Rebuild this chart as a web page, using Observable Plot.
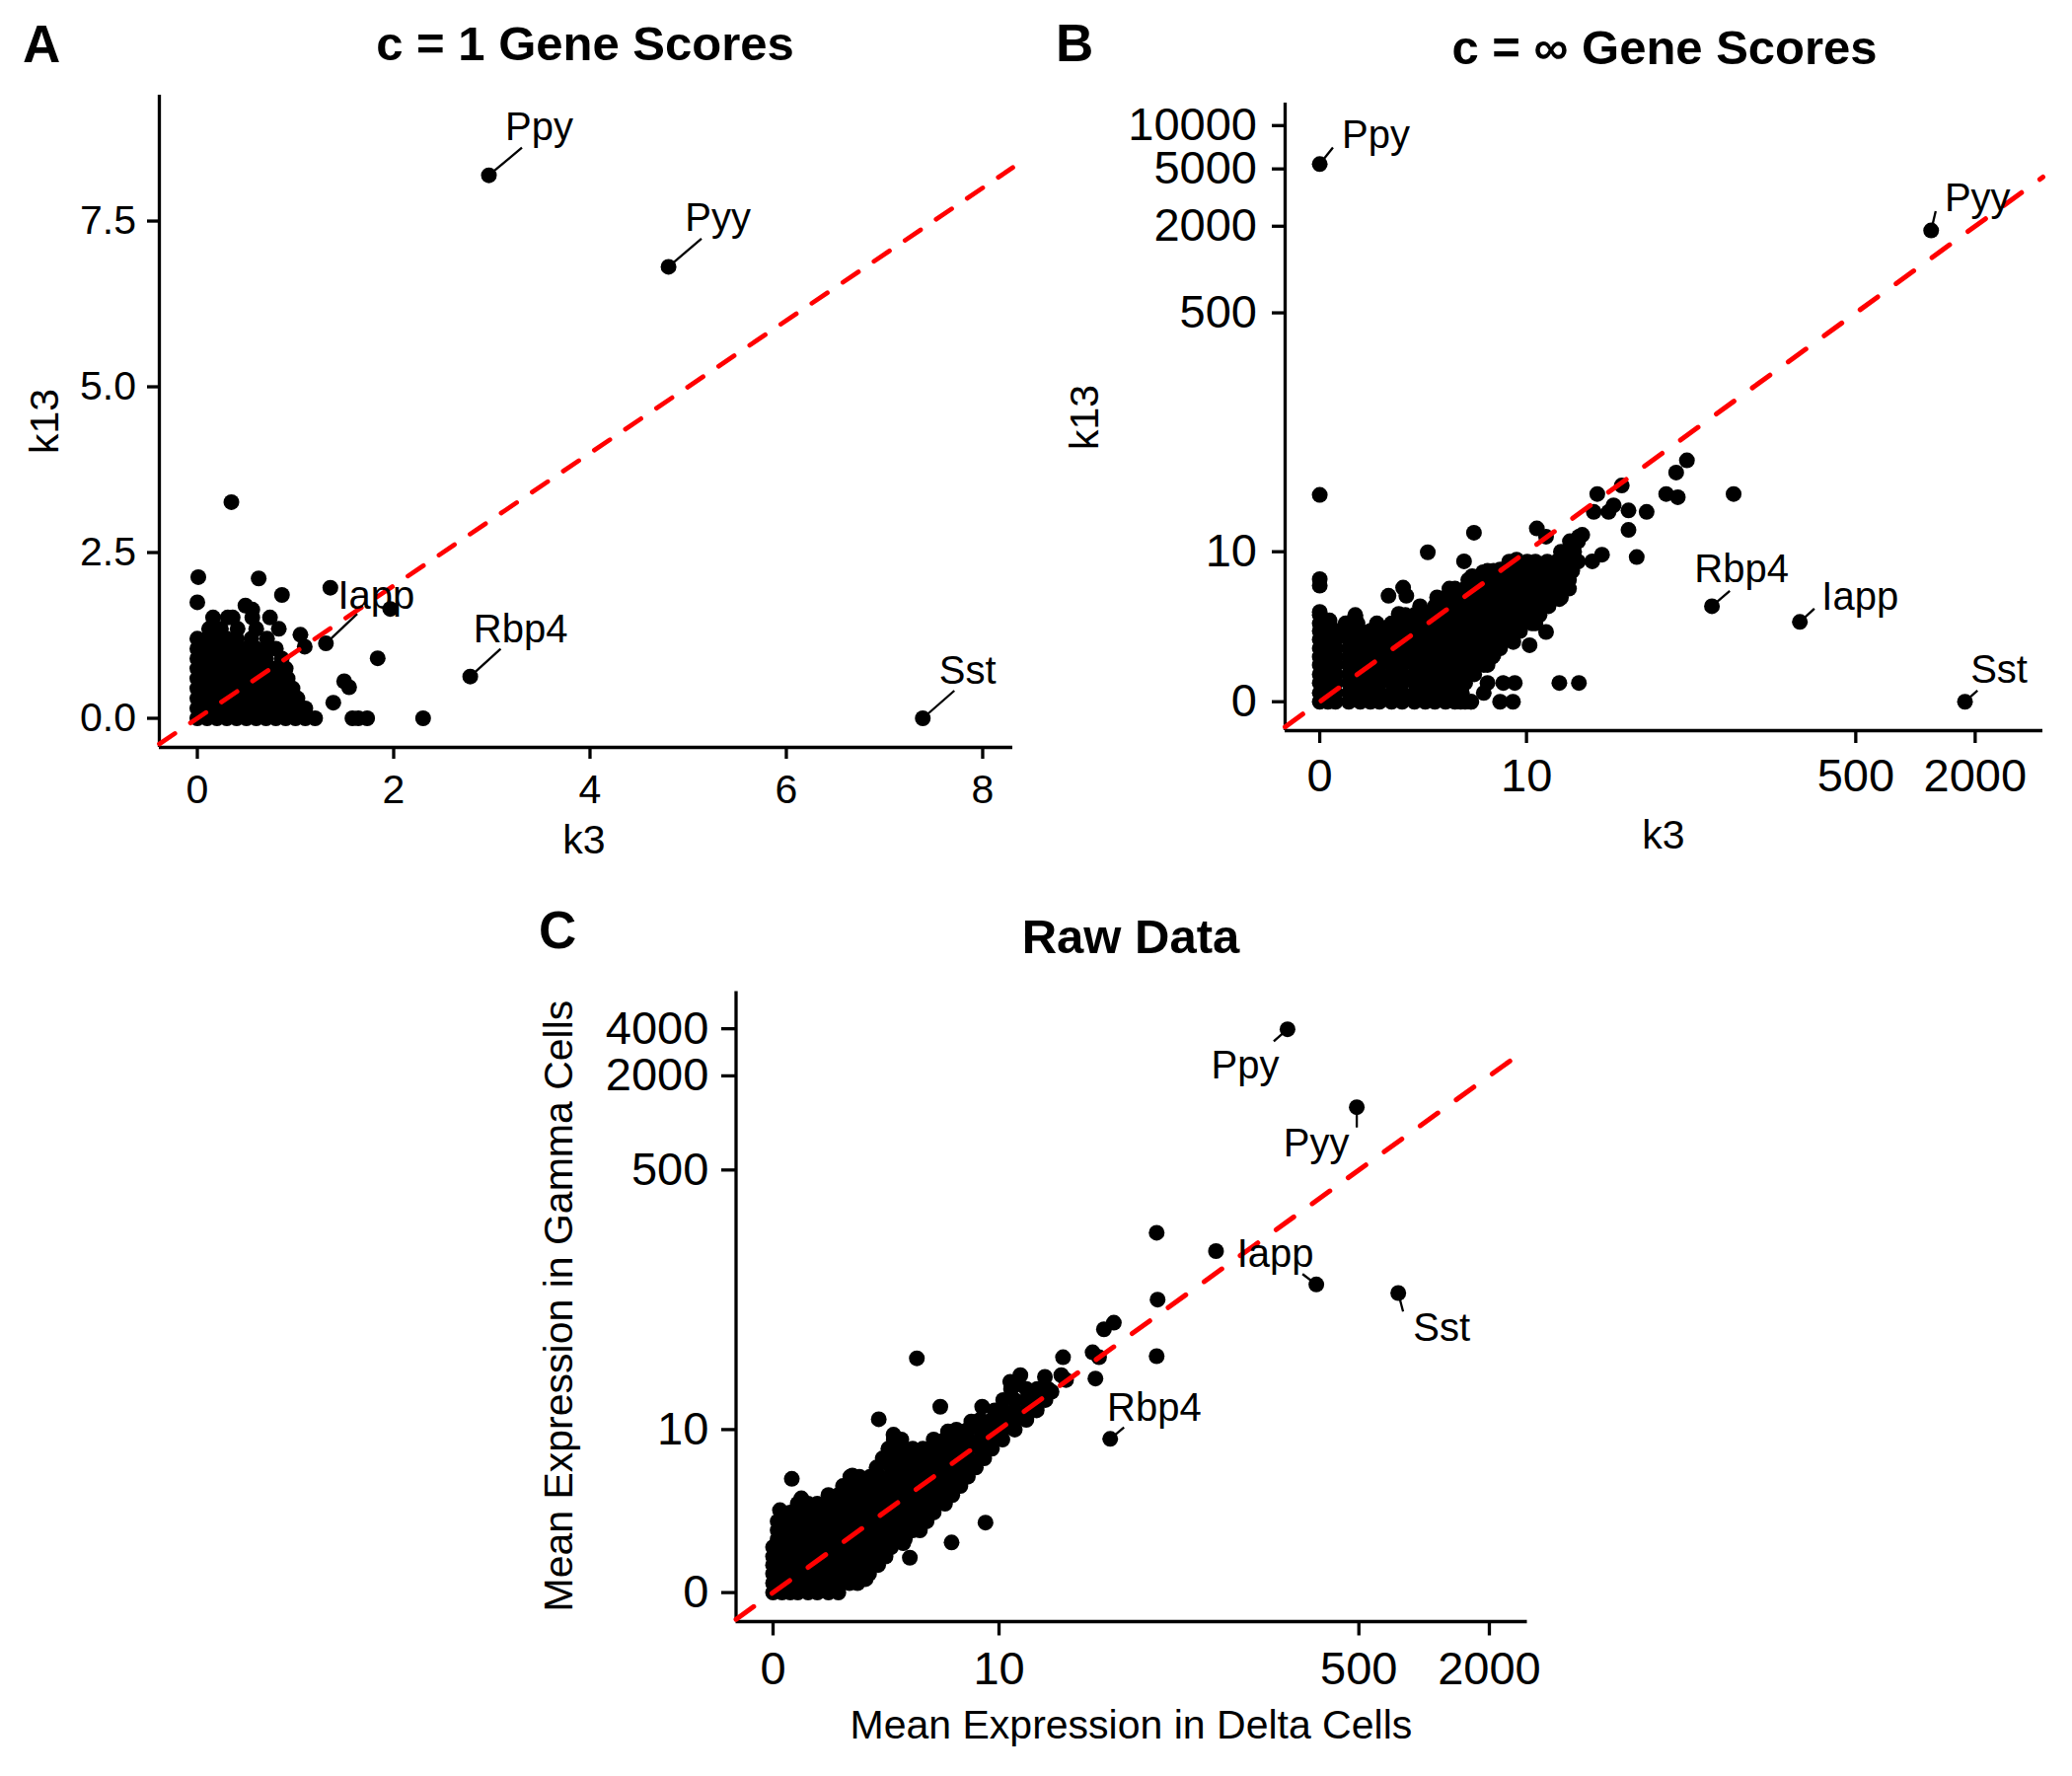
<!DOCTYPE html>
<html>
<head>
<meta charset="utf-8">
<script src="https://cdn.jsdelivr.net/npm/d3@7"></script>
<script src="https://cdn.jsdelivr.net/npm/@observablehq/plot@0.6"></script>
<style>
  body { margin: 0; background: #fff; }
  #root { position: relative; width: 2100px; height: 1800px; background: #fff; overflow: hidden;
          font-family: "Liberation Sans", Arial, Helvetica, sans-serif; }
  #root > svg { position: absolute; }
</style>
</head>
<body>
<div id="root"></div>
<script>
// ---------------- DATA ----------------
// Labelled genes (same order in all panels)
const genes = ["Ppy", "Pyy", "Iapp", "Rbp4", "Sst"];

// Panel A: c = 1 gene scores (k3, k13)
const aGeneK3  = [2.97, 4.80, 1.31, 2.78, 7.39];
const aGeneK13 = [8.19, 6.81, 1.13, 0.63, 0];
// dense cloud, read row by row: [k13, [k3 values]]
const aCloudRows = [
  [0,    [0,0.1,0.2,0.3,0.4,0.5,0.6,0.7,0.8,0.9,1.0,1.1,1.2,1.58,1.64,1.73,2.3]],
  [0.15, [0,0.1,0.2,0.3,0.4,0.5,0.6,0.7,0.8,0.9,1.0,1.1]],
  [0.3,  [0,0.1,0.2,0.3,0.4,0.5,0.6,0.7,0.8,0.9,1.02]],
  [0.45, [0,0.1,0.2,0.3,0.4,0.5,0.6,0.7,0.8,0.9,0.97]],
  [0.6,  [0,0.1,0.2,0.3,0.4,0.5,0.6,0.7,0.8,0.92]],
  [0.75, [0,0.1,0.2,0.3,0.4,0.5,0.6,0.7,0.8,0.9]],
  [0.9,  [0,0.1,0.2,0.3,0.4,0.5,0.6,0.7,0.86]],
  [1.05, [0,0.1,0.2,0.3,0.4,0.5,0.6,0.7,0.8]],
  [1.2,  [0,0.1,0.2,0.3,0.4,0.55,0.71]],
  [1.35, [0.12,0.24,0.41,0.6,0.83]],
  [1.52, [0.16,0.31,0.36,0.56,0.74]]
];
const aOutliers = [[0.49,1.70],[0.56,1.64],[0,1.75],[0.01,2.13],[0.625,2.11],[0.862,1.86],[0.347,3.26],
  [1.05,1.26],[1.094,1.08],[1.355,1.97],[1.965,1.65],[1.837,0.905],[1.496,0.558],[1.546,0.469],[1.385,0.235]];

// Panel B: c = infinity gene scores (k3, k13)
const bGeneK3  = [0, 1200, 261, 93.5, 1777];
const bGeneK13 = [5400, 1870, 2.58, 3.6, 0];
const bCloudRows = [
  [0,    [0,0.1,0.2,0.4,0.6,0.8,1,1.3,1.6,2,2.4,2.8,3.3,3.8,4.4,4.8,7.1,8.4]],
  [0.15, [0,0.1,0.2,0.4,0.6,0.8,1,1.3,1.6,2,2.4,2.8,3.3,3.8,4.2,5.7]],
  [0.35, [0,0.1,0.2,0.4,0.6,0.8,1,1.3,1.6,2,2.4,2.8,3.3,3.8,4.4,6.0,7.4,8.6,15.1,19.2]],
  [0.55, [0,0.1,0.2,0.4,0.6,0.8,1,1.3,1.6,2,2.4,2.8,3.3,3.8,4.4,5.0]],
  [0.8,  [0,0.1,0.2,0.4,0.6,0.8,1,1.3,1.6,2,2.4,2.8,3.3,3.8,4.4,5.0,5.7,6.0]],
  [1.05, [0,0.1,0.2,0.4,0.6,0.8,1,1.3,1.6,2,2.4,2.8,3.3,3.8,4.4,5.0,5.7,6.4]],
  [1.35, [0,0.1,0.2,0.4,0.6,0.8,1,1.3,1.6,2,2.4,2.8,3.3,3.8,4.4,5.0,5.7,6.5,7.1]],
  [1.7,  [0,0.1,0.2,0.4,0.6,0.8,1,1.3,1.6,2,2.4,2.8,3.3,3.8,4.4,5.0,5.7,6.5,7.4,8.0]],
  [2.1,  [0,0.1,0.2,0.4,0.6,0.8,1,1.3,1.6,2,2.4,2.8,3.3,3.8,4.4,5.0,5.7,6.5,7.4,8.4,9.2]],
  [2.5,  [0,0.12,0.35,0.55,0.94,1.3,1.6,2,2.4,2.8,3.3,3.8,4.4,5.0,5.7,6.5,7.4,8.4,9.5,10.7,11.2]],
  [3,    [0,0.51,1.7,2,2.4,2.8,3.3,3.8,4.4,5.0,5.7,6.5,7.4,8.4,9.5,10.7,11.8]],
  [3.6,  [2.2,2.8,3.3,3.8,4.4,5.0,5.7,6.5,7.4,8.4,9.5,10.7,12,13.2]],
  [4.3,  [2.9,3.3,3.8,4.4,5.0,5.7,6.5,7.4,8.4,9.5,10.7,12,13.5,15.4]],
  [5.1,  [3.5,3.8,4.4,5.0,5.7,6.5,7.4,8.4,9.5,10.7,12,13.5,15,17]],
  [6,    [4.6,5.0,5.7,6.5,7.4,8.4,9.5,10.7,12,13.5,15,17]],
  [7.1,  [6.0,6.5,7.4,8.4,9.5,10.7,12,13.5,15,16.4,17.7]],
  [8.4,  [8.0,9.0,10.1,11.2,13,14.6,16,17.5,19]],
  [10,   [15.4,17,18.1]],
  [12,   [17.2,19]]
];
const bOutliers = [[0,26.3],[0,6.1],[0,5.4],[0,3.2],[0.12,2.67],[0.35,2.13],[0.51,2.86],[0.94,2.39],
  [1.22,4.44],[1.63,5.2],[1.73,4.44],[1.5,3.07],[2.5,9.9],[4.33,8.44],[4.98,13.9],[4.86,6.45],[5.65,6.93],
  [7.1,7.27],[8.8,8.69],[11.4,14.97],[12.8,13.0],[20.0,13.4],[24.0,26.7],[23.0,19.8],[27.5,19.8],[29.2,22.1],
  [32.2,30.7],[34.9,20.3],[34.9,14.6],[43.3,19.8],[38.5,9.1],[54.6,26.7],[62.6,25.3],[61.4,38.0],[69.7,46.4],
  [120.5,26.7],[25.4,9.5],[22.6,8.44],[19.2,13.0],[17.0,10.35],[15.7,8.2],[16.4,5.7],[15.1,4.16],[12.8,2.05],
  [10.4,1.47],[8.44,1.6],[6.5,1.11],[4.13,0],[4.76,0]];

// Panel C: raw data, mean expression (delta, gamma)
const cGeneDelta = [234, 489, 318, 34.8, 760];
const cGeneGamma = [3970, 1260, 92, 8.6, 81];
const cCloudRows = [
  [0,    [0,0.1,0.2,0.3,0.45,0.6,0.8,1.0]],
  [0.15, [0,0.1,0.2,0.3,0.45,0.6,0.8,1.0,1.25,1.45]],
  [0.32, [0,0.1,0.2,0.3,0.45,0.6,0.8,1.0,1.25,1.5,1.77]],
  [0.5,  [0,0.1,0.2,0.3,0.45,0.6,0.8,1.0,1.25,1.5,1.8,2.05]],
  [0.7,  [0,0.1,0.2,0.3,0.45,0.6,0.8,1.0,1.25,1.5,1.8,2.1,2.3]],
  [0.95, [0,0.1,0.2,0.3,0.45,0.6,0.8,1.0,1.25,1.5,1.8,2.1,2.5]],
  [1.2,  [0.05,0.1,0.2,0.3,0.45,0.6,0.8,1.0,1.25,1.5,1.8,2.1,2.5,2.9,3.05]],
  [1.5,  [0.05,0.1,0.2,0.3,0.45,0.6,0.8,1.0,1.25,1.5,1.8,2.1,2.5,2.9,3.4,3.75]],
  [1.85, [0.05,0.1,0.2,0.3,0.45,0.6,0.8,1.0,1.25,1.5,1.8,2.1,2.5,2.9,3.4,3.9,4.1]],
  [2.25, [0.1,0.2,0.3,0.45,0.6,0.8,1.0,1.25,1.5,1.8,2.1,2.5,2.9,3.4,3.9,4.5]],
  [2.7,  [0.3,0.45,0.6,0.8,1.0,1.25,1.5,1.8,2.1,2.5,2.9,3.4,3.9,4.5,5.2]],
  [3.2,  [0.8,1.0,1.25,1.5,1.8,2.1,2.5,2.9,3.4,3.9,4.5,5.2,5.7]],
  [3.8,  [1.1,1.25,1.5,1.8,2.1,2.5,2.9,3.4,3.9,4.5,5.2,6.0,6.3]],
  [4.5,  [1.27,1.5,1.8,2.1,2.5,2.9,3.4,3.9,4.5,5.2,6.0,6.9]],
  [5.3,  [2.0,2.5,2.9,3.4,3.9,4.5,5.2,6.0,6.9,7.6]],
  [6.2,  [2.2,2.5,2.9,3.4,3.9,4.5,5.2,6.0,6.9,8.0,8.4]],
  [7.3,  [2.4,2.9,3.4,3.9,4.5,5.2,6.0,6.9,8.0,9.2]],
  [8.5,  [2.6,2.9,4.5,5.2,6.0,6.9,8.0,9.2,10.4]],
  [10,   [6.0,6.9,8.0,9.2,10.5,12.0]],
  [11.7, [8.0,9.2,10.5,12.0,13.7]],
  [13.6, [9.5,10.5,12.0,13.7,15.4]],
  [16,   [10.5,12.0,13.7,15.5,17.0]],
  [19,   [11.5,13.7,15.5,17.5]]
];
const cOutliers = [[0.076,2.36],[0.35,3.0],[0.22,4.33],[1.32,4.6],[1.76,4.2],[2.07,11.8],[2.59,9.2],[4.9,14.4],
  [3.6,30.4],[8.53,1.8],[5.65,1.09],[1.57,0.22],[1.67,0.22],[2.98,1.07],[3.27,0.67],[7.2,11.4],[8.2,14.4],
  [11.4,21.2],[5.4,9.7],[12.8,23.5],[12.1,20.2],[16.9,22.9],[20.3,23.5],[21.4,21.8],[18.2,18.2],[15.4,14.1],
  [13.7,12.0],[20.7,30.9],[28.7,33.3],[30.8,30.9],[29.6,22.3],[36.2,52],[32.5,47.1],[57.6,198],[109,151],
  [58.2,73.4],[57.6,31.4]];

// Tick values
const aXTicks = [0, 2, 4, 6, 8];
const aYTicks = [0, 2.5, 5, 7.5];
const bXTicks = [0, 10, 500, 2000];
const bYTicks = [0, 10, 500, 2000, 5000, 10000];
const cXTicks = [0, 10, 500, 2000];
const cYTicks = [0, 10, 500, 2000, 4000];

// ---------------- LAYOUT / STYLE ----------------
// label placement (pixel offsets from the point): text [dx, baseline dy], leader end [dx, dy]
const aLabelOff = {Ppy:[[51,-36],[33.5,-28]], Pyy:[[50,-36],[33.4,-28.6]], Iapp:[[51,-35],[31.7,-30]],
                   Rbp4:[[51,-35],[30.8,-28]], Sst:[[45.5,-35.5],[32,-28]]};
const bLabelOff = {Ppy:[[57,-16.5],[13.4,-16.8]], Pyy:[[47,-19.6],[4.6,-19.6]], Iapp:[[61,-12],[14.7,-13.5]],
                   Rbp4:[[30,-24],[18.1,-15.7]], Sst:[[34.5,-19.7],[12.7,-11.3]]};
const cLabelOff = {Ppy:[[-43,50],[-14,12.3]], Pyy:[[-41,50],[0,20.5]], Iapp:[[-41.5,-18],[-14,-10.6]],
                   Rbp4:[[44.6,-18.7],[14,-11.7]], Sst:[[44,48],[4.9,18.7]]};

const FONT = '"Liberation Sans", Arial, Helvetica, sans-serif';

function rowsToPoints(rows, extra) {
  const pts = [];
  for (const [y, xs] of rows) for (const x of xs) pts.push([x, y]);
  for (const p of extra) pts.push(p);
  return pts;
}

function scaleFns(type, domain, range) {
  const f  = type === "symlog" ? v => Math.sign(v) * Math.log1p(Math.abs(v)) : v => v;
  const fi = type === "symlog" ? t => Math.sign(t) * Math.expm1(Math.abs(t)) : t => t;
  const t0 = f(domain[0]), t1 = f(domain[1]);
  return {
    fwd: v => range[0] + (f(v) - t0) / (t1 - t0) * (range[1] - range[0]),
    inv: p => fi(t0 + (p - range[0]) / (range[1] - range[0]) * (t1 - t0))
  };
}

function panel(c) {
  const sx = scaleFns(c.xType, c.xDomain, [c.mL, c.width - c.mR]);
  const sy = scaleFns(c.yType, c.yDomain, [c.height - c.mB, c.mT]);
  const labels = genes.map((g, i) => {
    const px = sx.fwd(c.gx[i]), py = sy.fwd(c.gy[i]);
    const [t, l] = c.off[g];
    return {g, x: c.gx[i], y: c.gy[i],
      tx: sx.inv(px + t[0]), ty: sy.inv(py + t[1]),
      lx: sx.inv(px + l[0]), ly: sy.inv(py + l[1])};
  });
  const scaleOpt = (type, domain) => type === "symlog" ? {type, domain, constant: 1} : {type, domain};
  const diag = [c.xDomain[0], c.xDomain[1]];
  const svg = Plot.plot({
    width: c.width, height: c.height,
    marginLeft: c.mL, marginRight: c.mR, marginTop: c.mT, marginBottom: c.mB,
    style: {fontFamily: FONT, fontSize: c.tickFont + "px", color: "black", background: "transparent", overflow: "visible"},
    x: scaleOpt(c.xType, c.xDomain),
    y: scaleOpt(c.yType, c.yDomain),
    marks: [
      Plot.axisX({ticks: c.xTicks, tickFormat: c.xFmt, tickSize: c.tickSize, tickPadding: c.xPad,
                  strokeWidth: 3.3, label: null, fontSize: c.tickFont}),
      Plot.axisY({ticks: c.yTicks, tickFormat: c.yFmt, tickSize: c.tickSize, tickPadding: c.yPad,
                  strokeWidth: 3.3, label: null, fontSize: c.tickFont}),
      Plot.ruleY([c.yDomain[0]], {stroke: "black", strokeWidth: 3.3}),
      Plot.ruleX([c.xDomain[0]], {stroke: "black", strokeWidth: 3.3}),
      Plot.link(labels, {x1: "x", y1: "y", x2: "lx", y2: "ly", stroke: "black", strokeWidth: 2.3}),
      Plot.dot(c.points, {x: d => d[0], y: d => d[1], r: 8, fill: "black", stroke: null}),
      Plot.line(diag, {x: d => d, y: d => d, stroke: "#ff0000", strokeWidth: c.lineW, strokeDasharray: c.dash}),
      Plot.text(labels, {x: "tx", y: "ty", text: "g", fontSize: 40, fill: "black",
                         textAnchor: "middle", lineAnchor: "bottom"})
    ]
  });
  svg.style.left = c.left + "px";
  svg.style.top = c.top + "px";
  return svg;
}

const root = document.getElementById("root");

root.appendChild(panel({
  left: 0, top: 0, width: 1050, height: 880, mL: 161, mT: 96, mR: 24, mB: 123,
  xType: "linear", yType: "linear", xDomain: [-0.387, 8.307], yDomain: [-0.439, 9.398],
  xTicks: aXTicks, yTicks: aYTicks, xFmt: d3.format("d"), yFmt: d3.format(".1f"),
  tickFont: 41, tickSize: 12, xPad: 15, yPad: 11.5, lineW: 4.7, dash: "19,19",
  points: rowsToPoints(aCloudRows, aOutliers).concat(aGeneK3.map((x, i) => [x, aGeneK13[i]])),
  gx: aGeneK3, gy: aGeneK13, off: aLabelOff
}));

root.appendChild(panel({
  left: 1050, top: 0, width: 1050, height: 880, mL: 252, mT: 104, mR: 30, mB: 140,
  xType: "symlog", yType: "symlog", xDomain: [-0.494, 4388], yDomain: [-0.587, 14322],
  xTicks: bXTicks, yTicks: bYTicks, xFmt: d3.format("d"), yFmt: d3.format("d"),
  tickFont: 47, tickSize: 13, xPad: 15.3, yPad: 15.5, lineW: 5, dash: "22,23",
  points: rowsToPoints(bCloudRows, bOutliers).concat(bGeneK3.map((x, i) => [x, bGeneK13[i]])),
  gx: bGeneK3, gy: bGeneK13, off: bLabelOff
}));

root.appendChild(panel({
  left: 520, top: 880, width: 1100, height: 920, mL: 225.5, mT: 124.4, mR: 72.5, mB: 157,
  xType: "symlog", yType: "symlog", xDomain: [-0.481, 2994], yDomain: [-0.532, 6921],
  xTicks: cXTicks, yTicks: cYTicks, xFmt: d3.format("d"), yFmt: d3.format("d"),
  tickFont: 47, tickSize: 14.5, xPad: 15.5, yPad: 13.2, lineW: 5, dash: "22,23",
  points: rowsToPoints(cCloudRows, cOutliers).concat(cGeneDelta.map((x, i) => [x, cGeneGamma[i]])),
  gx: cGeneDelta, gy: cGeneGamma, off: cLabelOff
}));

// Titles, panel letters and axis titles
const texts = [
  {t: "A", x: 23, y: 63, size: 53, bold: true, anchor: "start"},
  {t: "c = 1 Gene Scores", x: 593, y: 61, size: 49, bold: true},
  {t: "B", x: 1070, y: 62, size: 53, bold: true, anchor: "start"},
  {t: "c = \u221E Gene Scores", x: 1687, y: 65, size: 49, bold: true},
  {t: "C", x: 546, y: 961, size: 53, bold: true, anchor: "start"},
  {t: "Raw Data", x: 1146, y: 966, size: 49, bold: true},
  {t: "k3", x: 592, y: 865, size: 41},
  {t: "k13", x: 59, y: 427, size: 41, rotate: true},
  {t: "k3", x: 1686, y: 860, size: 41},
  {t: "k13", x: 1113, y: 423, size: 41, rotate: true},
  {t: "Mean Expression in Delta Cells", x: 1146.4, y: 1762, size: 41},
  {t: "Mean Expression in Gamma Cells", x: 580, y: 1323.6, size: 41, rotate: true}
];
const ov = d3.create("svg").attr("width", 2100).attr("height", 1800)
  .style("left", "0px").style("top", "0px").style("pointer-events", "none");
for (const d of texts) {
  ov.append("text")
    .attr("transform", `translate(${d.x},${d.y})` + (d.rotate ? " rotate(-90)" : ""))
    .attr("text-anchor", d.anchor || "middle")
    .attr("font-family", FONT)
    .attr("font-size", d.size)
    .attr("font-weight", d.bold ? "bold" : "normal")
    .attr("fill", "black")
    .text(d.t);
}
root.appendChild(ov.node());
</script>
</body>
</html>
